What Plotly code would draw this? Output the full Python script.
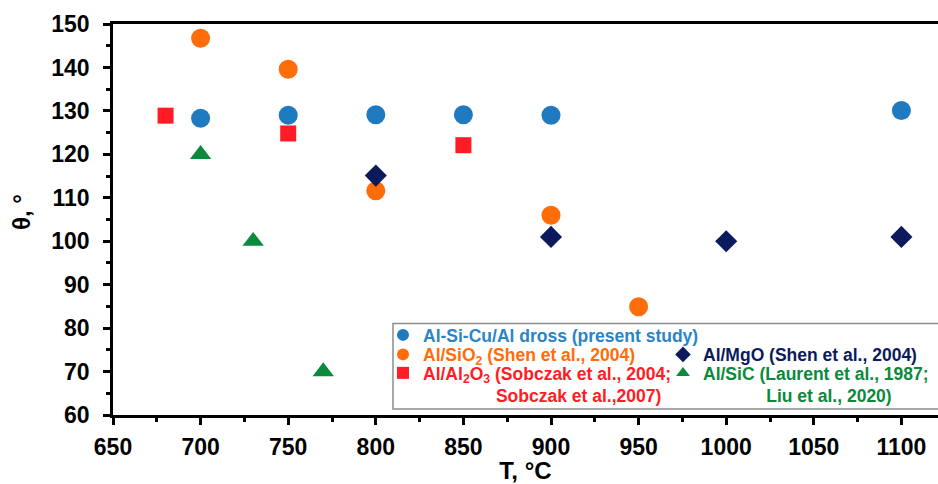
import plotly.graph_objects as go

# ---------------- data ----------------
t_present = [700, 750, 800, 850, 900, 1100]
th_present = [128.3, 129.0, 129.1, 129.1, 129.0, 130.1]

t_sio2 = [700, 750, 800, 900, 950]
th_sio2 = [146.7, 139.6, 111.6, 106.0, 84.9]

t_al2o3 = [680, 750, 850]
th_al2o3 = [128.9, 124.8, 122.1]

t_mgo = [800, 900, 1000, 1100]
th_mgo = [115.1, 101.0, 100.0, 101.0]

t_sic = [700, 730, 770]
th_sic = [120.0, 100.0, 70.0]

x_ticks = [650, 700, 750, 800, 850, 900, 950, 1000, 1050, 1100]
y_ticks = [60, 70, 80, 90, 100, 110, 120, 130, 140, 150]

NB = "\u00a0"
name_present = "Al-Si-Cu/Al dross (present study)"
name_sio2 = "Al/SiO<sub>2</sub> (Shen et al., 2004)"
name_mgo = "Al/MgO (Shen et al., 2004)"
name_al2o3 = "Al/Al<sub>2</sub>O<sub>3</sub> (Sobczak et al., 2004;<br>" + NB * 15 + "Sobczak et al.,2007)"
name_sic = "Al/SiC (Laurent et al., 1987;<br>" + NB * 13 + "Liu et al., 2020)"

# ---------------- style ----------------
W, H = 938, 484
ML, MR, MT, MB = 113, 0, 24, 69
PW, PH = W - ML - MR, H - MT - MB
FONT = "Liberation Sans, Arial, Helvetica, sans-serif"

c_blue, c_blue_txt = "#1F7AC0", "#2A84C6"
c_orange = "#FF6C0A"
c_red = "#FF1C24"
c_navy = "#0B1A5C"
c_green = "#0A8A3A"

fig = go.Figure()

fig.add_trace(go.Scatter(x=t_present, y=th_present, mode="markers", name=name_present,
                         marker=dict(symbol="circle", size=19, color=c_blue), legend="legend",
                         showlegend=True))
fig.add_trace(go.Scatter(x=t_sio2, y=th_sio2, mode="markers", name=name_sio2,
                         marker=dict(symbol="circle", size=19, color=c_orange), legend="legend2"))
fig.add_trace(go.Scatter(x=t_al2o3, y=th_al2o3, mode="markers", name=name_al2o3,
                         marker=dict(symbol="square", size=16, color=c_red), legend="legend3"))
fig.add_trace(go.Scatter(x=t_mgo, y=th_mgo, mode="markers", name=name_mgo,
                         marker=dict(symbol="diamond", size=17, color=c_navy), legend="legend4"))
fig.add_trace(go.Scatter(x=t_sic, y=th_sic, mode="markers", name=name_sic,
                         marker=dict(symbol="triangle-up", size=18.5, color=c_green), legend="legend5"))


def leg(px_left, py_mid, color, valign="middle"):
    return dict(
        xref="container", yref="container",
        x=px_left / W, y=1 - py_mid / H, xanchor="left", yanchor="middle",
        bgcolor="rgba(0,0,0,0)", borderwidth=0, itemsizing="constant",
        valign=valign,
        font=dict(family=FONT, size=17.5, color=color, weight="bold"),
    )


axis_common = dict(
    showgrid=False, zeroline=False, showline=True, linecolor="black", linewidth=2.5,
    ticks="outside", ticklen=7, tickwidth=2.5, tickcolor="black",
    tickfont=dict(family=FONT, size=23, color="black", weight="bold"),
)

x_range = [650, 650 + PW / 87.6 * 50]

fig.update_layout(
    width=W, height=H, showlegend=True,
    margin=dict(l=ML, r=MR, t=MT, b=MB, autoexpand=False),
    paper_bgcolor="white", plot_bgcolor="white",
    xaxis=dict(**axis_common, range=x_range, tickvals=x_ticks, mirror=True,
               ticklabelstandoff=3,
               minor=dict(dtick=25, ticks="outside", ticklen=4, tickwidth=2.5, tickcolor="black"),
               title=dict(text="T, °C", standoff=4,
                          font=dict(family=FONT, size=24, color="black", weight="bold"))),
    yaxis=dict(**axis_common, range=[60, 150], tickvals=y_ticks,
               ticklabelstandoff=9,
               minor=dict(dtick=5, ticks="outside", ticklen=4, tickwidth=2.5, tickcolor="black")),
    legend=leg(383, 335, c_blue_txt),
    legend2=leg(383, 354.5, c_orange),
    legend3=leg(383, 384.5, c_red, "top"),
    legend4=leg(663, 354.5, c_navy),
    legend5=leg(663, 384.5, c_green, "top"),
    annotations=[dict(text="θ, °", textangle=-90, showarrow=False,
                      xref="paper", yref="paper",
                      x=(22 - ML) / PW, y=(H - MB - 212) / PH,
                      xanchor="center", yanchor="middle",
                      font=dict(family=FONT, size=24, color="black", weight="bold"))],
    shapes=[dict(type="rect", xref="paper", yref="paper",
                 x0=(393 - ML) / PW, x1=1.05,
                 y0=(H - MB - 409) / PH, y1=(H - MB - 323.5) / PH,
                 line=dict(color="#8C8C8C", width=1.5), fillcolor="white", layer="below")],
)

fig.write_html("out.html")
